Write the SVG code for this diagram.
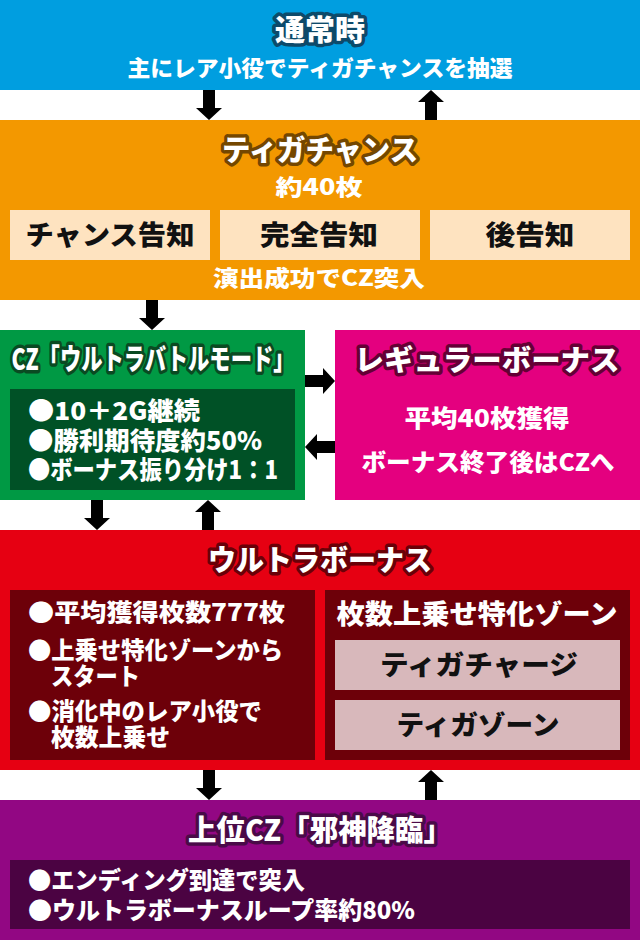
<svg xmlns="http://www.w3.org/2000/svg" xmlns:xlink="http://www.w3.org/1999/xlink" width="640" height="940" viewBox="0 0 640 940">
<defs>
<style>
text{font-family:"Noto Sans CJK JP","Noto Sans CJK SC",sans-serif;font-weight:900;}
.c{text-anchor:middle;}
.w{fill:#ffffff;}
.k{fill:#111111;}
.t{font-size:29px;stroke-width:7px;stroke-linejoin:round;paint-order:stroke fill;fill:#ffffff;text-anchor:middle;}
.s{font-size:22px;}
.b{font-size:25px;}
.m{font-size:27px;}
.arrow{fill:#000000;}
</style>
<path id="arr" d="M-6,0 H6 V18 H13 L0,30 L-13,18 H-6 Z"/>
</defs>

<rect x="0" y="0" width="640" height="940" fill="#ffffff"/>

<g id="n-normal">
<rect x="0" y="0" width="640" height="90" fill="#009ee0"/>
<text class="t" x="320" y="41" stroke="#0d4a6a" font-size="30" textLength="90" lengthAdjust="spacingAndGlyphs">通常時</text>
<text class="w c s" x="320" y="76" textLength="385" lengthAdjust="spacingAndGlyphs">主にレア小役でティガチャンスを抽選</text>
</g>

<g id="n-chance">
<rect x="0" y="120" width="640" height="180" fill="#f39800"/>
<text class="t" x="320" y="161" stroke="#744700" textLength="196" lengthAdjust="spacingAndGlyphs">ティガチャンス</text>
<text class="w c s" x="319" y="195" textLength="87" lengthAdjust="spacingAndGlyphs">約40枚</text>
<g id="n-chance-notice">
<rect x="10" y="210" width="200" height="50" fill="#fee3c0"/>
<text class="k c m" x="110" y="245" textLength="169" lengthAdjust="spacingAndGlyphs">チャンス告知</text>
</g>
<g id="n-full-notice">
<rect x="220" y="210" width="200" height="50" fill="#fee3c0"/>
<text class="k c m" x="319" y="245" textLength="118" lengthAdjust="spacingAndGlyphs">完全告知</text>
</g>
<g id="n-after-notice">
<rect x="430" y="210" width="200" height="50" fill="#fee3c0"/>
<text class="k c m" x="530" y="245" textLength="89" lengthAdjust="spacingAndGlyphs">後告知</text>
</g>
<text class="w c s" x="319" y="286" textLength="212" lengthAdjust="spacingAndGlyphs">演出成功でCZ突入</text>
</g>

<g id="n-cz">
<rect x="0" y="330" width="305" height="170" fill="#009944"/>
<text class="t" x="153" y="370" stroke="#0a4a22" font-size="27" textLength="283" lengthAdjust="spacingAndGlyphs">CZ「ウルトラバトルモード」</text>
<rect x="10" y="389" width="285" height="101" fill="#005126"/>
<text class="w b" x="28" y="420" textLength="172" lengthAdjust="spacingAndGlyphs">●10＋2G継続</text>
<text class="w b" x="28" y="450" textLength="234" lengthAdjust="spacingAndGlyphs">●勝利期待度約50%</text>
<text class="w b" x="28" y="479" textLength="250" lengthAdjust="spacingAndGlyphs">●ボーナス振り分け1：1</text>
</g>

<g id="n-regular">
<rect x="335" y="330" width="305" height="170" fill="#e4007f"/>
<text class="t" x="487" y="371" stroke="#640035" textLength="265" lengthAdjust="spacingAndGlyphs">レギュラーボーナス</text>
<text class="w c" x="487" y="427" font-size="24" textLength="165" lengthAdjust="spacingAndGlyphs">平均40枚獲得</text>
<text class="w c" x="488" y="471" font-size="24" textLength="253" lengthAdjust="spacingAndGlyphs">ボーナス終了後はCZへ</text>
</g>

<g id="n-ultra">
<rect x="0" y="530" width="640" height="240" fill="#e60012"/>
<text class="t" x="320" y="571" stroke="#6a0008" textLength="224" lengthAdjust="spacingAndGlyphs">ウルトラボーナス</text>
<rect x="10" y="590" width="305" height="170" fill="#6d0009"/>
<text class="w" x="28" y="621" font-size="24" textLength="257" lengthAdjust="spacingAndGlyphs">●平均獲得枚数777枚</text>
<text class="w" x="28" y="659" font-size="24" textLength="255" lengthAdjust="spacingAndGlyphs">●上乗せ特化ゾーンから</text>
<text class="w" x="51" y="685" font-size="24" textLength="89" lengthAdjust="spacingAndGlyphs">スタート</text>
<text class="w" x="28" y="720" font-size="24" textLength="234" lengthAdjust="spacingAndGlyphs">●消化中のレア小役で</text>
<text class="w" x="51" y="746" font-size="24" textLength="119" lengthAdjust="spacingAndGlyphs">枚数上乗せ</text>
<g id="n-zone">
<rect x="325" y="590" width="305" height="170" fill="#6d0009"/>
<text class="w c m" x="477" y="624" textLength="281" lengthAdjust="spacingAndGlyphs">枚数上乗せ特化ゾーン</text>
<g id="n-tiga-charge">
<rect x="335" y="640" width="285" height="50" fill="#d8b8bb"/>
<text class="k c m" x="479" y="675" textLength="198" lengthAdjust="spacingAndGlyphs">ティガチャージ</text>
</g>
<g id="n-tiga-zone">
<rect x="335" y="700" width="285" height="50" fill="#d8b8bb"/>
<text class="k c m" x="478" y="735" textLength="163" lengthAdjust="spacingAndGlyphs">ティガゾーン</text>
</g>
</g>
</g>

<g id="n-jashin">
<rect x="0" y="800" width="640" height="140" fill="#920783"/>
<text class="t" x="320" y="841" stroke="#4a0a48" textLength="264" lengthAdjust="spacingAndGlyphs">上位CZ「邪神降臨」</text>
<rect x="10" y="860" width="620" height="69" fill="#4b0342"/>
<text class="w" x="28" y="889" font-size="24" textLength="277" lengthAdjust="spacingAndGlyphs">●エンディング到達で突入</text>
<text class="w" x="28" y="919" font-size="24" textLength="387" lengthAdjust="spacingAndGlyphs">●ウルトラボーナスループ率約80%</text>
</g>

<g id="connectors" class="arrow">
<use xlink:href="#arr" transform="translate(209,90)"/>
<use xlink:href="#arr" transform="translate(431,120) rotate(180)"/>
<use xlink:href="#arr" transform="translate(152,300)"/>
<use xlink:href="#arr" transform="translate(305,381) rotate(-90)"/>
<use xlink:href="#arr" transform="translate(335,447) rotate(90)"/>
<use xlink:href="#arr" transform="translate(97,500)"/>
<use xlink:href="#arr" transform="translate(208,530) rotate(180)"/>
<use xlink:href="#arr" transform="translate(209,770)"/>
<use xlink:href="#arr" transform="translate(431,800) rotate(180)"/>
</g>
</svg>
